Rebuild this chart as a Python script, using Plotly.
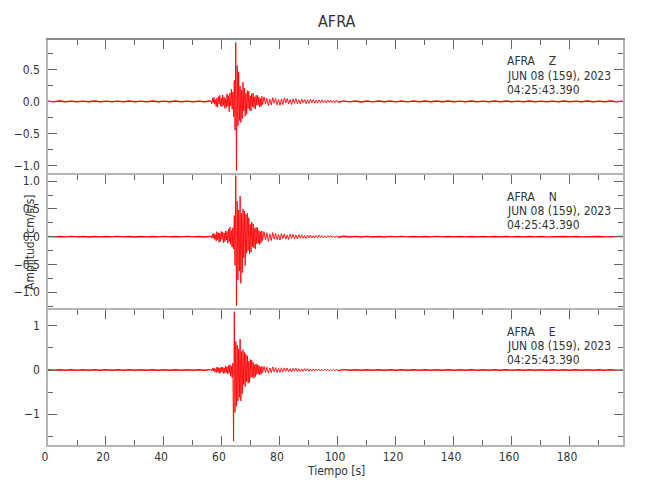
import plotly.graph_objects as go

# ---------------- data (amplitudes in 0.001 cm/s/s) ----------------
# Each trace is stored as four sampled segments:
#   pre-event noise  : t = 0 .. 56 s,    every 2 s
#   strong motion    : t = 56.25 .. 74 s, every 0.25 s
#   coda             : t = 74.5 .. 100 s, every 0.5 s
#   post-event noise : t = 102 .. 200 s, every 2 s
seg_start = [0.0, 56.25, 74.5, 102.0]
seg_step = [2.0, 0.25, 0.5, 2.0]

z_pre = [4, -5, 6, -4, 5, -6, 4, -5, 6, -5, 4, -6, 5, -4, 6, -5, 5, -4, 6, -6,
         5, -5, 6, -4, 5, -6, 5, -6, 7]
z_strong = [15, -35, 50, -20, 65, -45, 30, -80,
            55, -90, 75, -40, 95, -70, 50, -85,
            100, -60, 70, -110, 45, -95, 120, -75,
            90, -160, 130, -70, 190, -120, 150, -240,
            330, -450, 920, -1080, 560, -380, 460, -300,
            240, -330, 180, -270, 300, -150, 210, -230,
            130, -200, 170, -110, 160, -140, 90, -150,
            120, -80, 130, -100, 70, -120, 95, -60,
            100, -55, 70, -90, 45, -75, 80, -50]
z_coda = [70, -40, 50, -65, 35, -55, 60, -30, 45, -55, 30, -60,
          40, -50, 55, -25, 45, -40, 30, -50, 40, -30, 45, -35,
          25, -40, 35, -20, 30, -35, 25, -30, 35, -20, 28, -25,
          20, -28, 24, -18, 26, -22, 15, -24, 20, -16, 22, -18, 14, -20, 18, -15]
z_post = [8, -7, 7, -8, 6, -7, 7, -6, 7, -7, 6, -7, 6, -6, 7, -6, 7, -6, 6, -6,
          5, -6, 6, -6, 5, -6, 6, -5, 6, -6, 5, -6, 6, -5, 5, -6, 5, -5, 6, -5,
          5, -5, 6, -5, 5, -5, 6, -5, 5, -5]

n_pre = [3, -4, 4, -3, 5, -4, 4, -5, 4, -3, 4, -4, 5, -4, 3, -5, 4, -4, 4, -4,
         5, -3, 4, -4, 5, -4, 4, -5, 6]
n_strong = [15, -30, 45, -25, 60, -50, 35, -75,
            90, -55, 70, -100, 60, -85, 95, -50,
            80, -110, 65, -90, 105, -60, 95, -120,
            130, -90, 170, -140, 110, -190, 160, -220,
            380, -520, 1100, -1240, 640, -780, 480, -620,
            730, -840, 420, -650, 500, -380, 460, -520,
            400, -300, 420, -250, 340, -310, 220, -280,
            260, -180, 230, -200, 150, -220, 170, -130,
            160, -120, 110, -140, 90, -110, 100, -70]
n_coda = [90, -60, 70, -85, 50, -70, 75, -45, 60, -55, 40, -60,
          55, -35, 50, -45, 30, -50, 45, -30, 40, -38, 28, -42,
          35, -25, 32, -30, 22, -34, 28, -20, 30, -24, 18, -26,
          22, -18, 25, -15, 20, -22, 14, -20, 18, -12, 20, -15, 12, -18, 15, -10]
n_post = [6, -5, 6, -5, 5, -5, 4, -5, 5, -4, 5, -4, 4, -4, 4, -4, 5, -4, 4, -4,
          4, -4, 4, -3, 4, -4, 4, -3, 4, -4, 3, -4, 4, -3, 4, -3, 3, -4, 3, -3,
          4, -3, 3, -3, 3, -3, 3, -3, 3, -3]

e_pre = [5, -6, 5, -6, 6, -5, 6, -5, 6, -7, 5, -6, 6, -5, 6, -5, 7, -6, 5, -6,
         6, -5, 6, -6, 5, -6, 7, -6, 8]
e_strong = [15, -25, 40, -20, 50, -40, 25, -60,
            65, -40, 55, -75, 45, -60, 70, -45,
            60, -80, 50, -70, 85, -55, 75, -90,
            100, -70, 120, -140, 90, -170, 160, -1610,
            1320, -960, 650, -820, 560, -700, 480, -620,
            700, -700, 420, -540, 460, -330, 400, -380,
            360, -260, 320, -300, 200, -280, 240, -170,
            220, -160, 180, -190, 120, -150, 140, -100,
            120, -90, 100, -110, 70, -95, 85, -60]
e_coda = [80, -55, 65, -75, 45, -60, 70, -40, 55, -60, 35, -55,
          50, -40, 48, -30, 45, -42, 30, -45, 38, -28, 40, -32,
          30, -35, 25, -30, 32, -22, 28, -30, 20, -26, 24, -20,
          22, -18, 20, -24, 15, -20, 22, -14, 18, -20, 12, -16, 18, -14, 12, -15]
e_post = [8, -7, 7, -7, 6, -7, 6, -6, 7, -6, 6, -6, 6, -6, 6, -5, 6, -6, 5, -6,
          6, -5, 5, -6, 5, -5, 6, -5, 5, -5, 5, -5, 5, -5, 5, -5, 5, -5, 5, -5,
          5, -4, 5, -5, 4, -5, 5, -4, 5, -4]

station = "AFRA"
components = ["Z", "N", "E"]
date_label = "JUN 08 (159), 2023"
time_label = "04:25:43.390"
x_range = [0, 198.3]
y_ranges = [[-1.15, 0.96], [-1.32, 1.11], [-1.70, 1.36]]
y_dticks = [0.5, 0.5, 1.0]
y_minor = [0.25, 0.25, 0.5]
y_formats = [".1f", ".1f", ""]

all_segments = [[z_pre, z_strong, z_coda, z_post],
                [n_pre, n_strong, n_coda, n_post],
                [e_pre, e_strong, e_coda, e_post]]
seg_width = [1.4, 0.9, 0.9, 1.4]


def build(start, step, vals):
    t = [start + step * i for i in range(len(vals))]
    v = [val / 1000.0 for val in vals]
    return t, v


# ---------------- layout helpers ----------------
W, H = 650, 500
OFF = 8  # page body margin of the html page
FONT = "DejaVu Sans Condensed, Liberation Sans Narrow, sans-serif"
TXT = "#333333"
LINE = "#b4b4b4"
TICK = "#666666"
FS = 12


def px(xp):
    return (xp - OFF) / W


def py(yp):
    return 1 - (yp - OFF) / H


panel_px = [(40, 175), (175, 310), (310, 445)]
x_dom = [px(48), px(623)]

fig = go.Figure()
axis_names = ["3", "2", ""]  # top panel -> x3/y3, middle -> x2/y2, bottom -> x/y
for k, segs in enumerate(all_segments):
    a = axis_names[k]
    prev_t, prev_v = None, None
    for s, vals in enumerate(segs):
        t, v = build(seg_start[s], seg_step[s], vals)
        if prev_t is not None:
            t = [prev_t] + t
            v = [prev_v] + v
        prev_t, prev_v = t[-1], v[-1]
        fig.add_trace(go.Scatter(x=t, y=v, mode="lines",
                                 line=dict(color="#ff0000", width=seg_width[s]),
                                 xaxis="x" + a, yaxis="y" + a, showlegend=False,
                                 hoverinfo="skip"))

layout = dict(width=W, height=H, autosize=False,
              margin=dict(l=0, r=0, t=0, b=0, autoexpand=False),
              paper_bgcolor="white", plot_bgcolor="white",
              font=dict(family=FONT, size=FS, color=TXT),
              showlegend=False)

for k in range(3):
    a = axis_names[k]
    top, bot = panel_px[k]
    is_bottom = (k == 2)
    xa = dict(domain=x_dom, range=x_range, anchor="y" + a, automargin=False,
              showline=True, linecolor=LINE, linewidth=1.5,
              ticks="inside", ticklen=9, tickwidth=1, tickcolor=TICK,
              tick0=0, dtick=20,
              minor=dict(dtick=10, ticks="inside", ticklen=5, tickcolor=TICK),
              showgrid=False, zeroline=False,
              showticklabels=is_bottom, ticklabelshift=-3,
              tickfont=dict(family=FONT, size=FS, color=TXT))
    if is_bottom:
        xa["mirror"] = "ticks"
        xa["side"] = "bottom"
    else:
        xa["mirror"] = False
        xa["side"] = "top"
    if k == 0:
        xa["linecolor"] = "#8c8c8c"
    ya = dict(domain=[py(bot), py(top)], range=y_ranges[k], anchor="x" + a, automargin=False,
              showline=True, linecolor=LINE, linewidth=1.5, mirror="ticks",
              ticks="inside", ticklen=9, tickwidth=1, tickcolor=TICK,
              tick0=0, dtick=y_dticks[k],
              minor=dict(dtick=y_minor[k], ticks="inside", ticklen=5, tickcolor=TICK),
              showgrid=False, zeroline=False,
              tickformat=y_formats[k], ticklabelstandoff=4,
              tickfont=dict(family=FONT, size=FS, color=TXT))
    layout["xaxis" + a] = xa
    layout["yaxis" + a] = ya

annotations = []
line_offsets = [21.5, 35.5, 49.5]
for k in range(3):
    top, _ = panel_px[k]
    texts = [station + "\u00a0\u00a0\u00a0\u00a0" + components[k], date_label, time_label]
    for txt, off in zip(texts, line_offsets):
        annotations.append(dict(text=txt, x=px(505), y=py(top + off),
                                xref="paper", yref="paper", xanchor="left", yanchor="middle",
                                showarrow=False, font=dict(family=FONT, size=FS, color=TXT)))

annotations.append(dict(text="Amplitud [cm/s/s]", x=px(30), y=py(242), xref="paper", yref="paper",
                        textangle=-90, showarrow=False, xanchor="center", yanchor="middle",
                        font=dict(family=FONT, size=FS, color=TXT)))
annotations.append(dict(text="Tiempo\u00a0[s]", x=px(336), y=py(471), xref="paper", yref="paper",
                        showarrow=False, xanchor="center", yanchor="middle",
                        font=dict(family=FONT, size=FS, color=TXT)))
annotations.append(dict(text=station, x=px(336), y=py(21), xref="paper", yref="paper",
                        showarrow=False, xanchor="center", yanchor="middle",
                        font=dict(family=FONT, size=16, color=TXT)))
layout["annotations"] = annotations

fig.update_layout(**layout)
fig.write_html("out.html")
